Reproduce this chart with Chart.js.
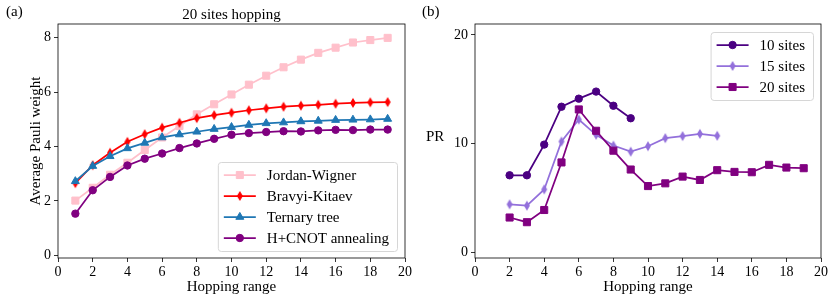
<!DOCTYPE html>
<html lang="en">
<head>
<meta charset="UTF-8">
<title>Pauli weight and PR vs hopping range</title>
<script src="https://cdn.jsdelivr.net/npm/chart.js"></script>
<style>
  * { margin: 0; padding: 0; }
  body {
    width: 831px; height: 298px; background: #fff;
    position: relative; overflow: hidden;
    font-family: 'Liberation Serif', serif; color: #000;
  }
  canvas { position: absolute; top: 0; }
  #chartA { left: 0; }
  #chartB { left: 415px; }
  .lbl { position: absolute; font-size: 15px; line-height: 1; }
</style>
</head>
<body>
<canvas id="chartA" width="415" height="298"></canvas>
<canvas id="chartB" width="416" height="298"></canvas>
<div class="lbl" style="left:6px;top:4px">(a)</div>
<div class="lbl" style="left:422px;top:4px">(b)</div>
<div class="lbl" style="left:426px;top:129px">PR</div>

<script>
// panel (a): average Pauli weight, 20 sites
const hopA = [1, 2, 3, 4, 5, 6, 7, 8, 9, 10, 11, 12, 13, 14, 15, 16, 17, 18, 19];
const jordanWigner = [2.01, 2.48, 2.96, 3.40, 3.87, 4.33, 4.75, 5.18, 5.55, 5.91, 6.27, 6.60, 6.91, 7.19, 7.44, 7.63, 7.82, 7.91, 7.99];
const bravyiKitaev = [2.65, 3.31, 3.77, 4.17, 4.45, 4.69, 4.87, 5.04, 5.15, 5.24, 5.33, 5.40, 5.46, 5.50, 5.53, 5.57, 5.60, 5.62, 5.63];
const ternaryTree  = [2.72, 3.28, 3.64, 3.93, 4.13, 4.33, 4.44, 4.54, 4.64, 4.71, 4.79, 4.85, 4.88, 4.92, 4.94, 4.97, 4.98, 4.99, 5.01];
const hCnotAnneal  = [1.53, 2.39, 2.88, 3.30, 3.55, 3.74, 3.94, 4.11, 4.28, 4.43, 4.49, 4.53, 4.56, 4.55, 4.59, 4.61, 4.60, 4.62, 4.62];

// panel (b): PR
const hop10 = [2, 3, 4, 5, 6, 7, 8, 9];
const pr10  = [7.10, 7.10, 9.92, 13.40, 14.14, 14.79, 13.49, 12.34];
const hop15 = [2, 3, 4, 5, 6, 7, 8, 9, 10, 11, 12, 13, 14];
const pr15  = [4.43, 4.31, 5.80, 10.20, 12.22, 10.82, 9.83, 9.27, 9.77, 10.51, 10.70, 10.91, 10.73];
const hop20 = [2, 3, 4, 5, 6, 7, 8, 9, 10, 11, 12, 13, 14, 15, 16, 17, 18, 19];
const pr20  = [3.22, 2.79, 3.91, 8.28, 13.15, 11.19, 9.36, 7.63, 6.11, 6.36, 6.98, 6.67, 7.57, 7.41, 7.38, 8.06, 7.81, 7.75];

const xTicks  = [0, 2, 4, 6, 8, 10, 12, 14, 16, 18, 20];
const yTicksA = [0, 2, 4, 6, 8];
const yTicksB = [0, 10, 20];

const FONT_FAMILY = "'Liberation Serif', serif";
Chart.defaults.font.family = FONT_FAMILY;
Chart.defaults.font.size = 14;
Chart.defaults.color = '#000';

const zip = (xs, ys) => xs.map((x, i) => ({x: x, y: ys[i]}));

// matplotlib 'd' marker
function thinDiamond(color, w, h) {
  const c = document.createElement('canvas');
  c.width = w + 2; c.height = h + 2;
  const g = c.getContext('2d');
  g.fillStyle = color;
  g.beginPath();
  g.moveTo(c.width / 2, 1);
  g.lineTo(c.width - 1, c.height / 2);
  g.lineTo(c.width / 2, c.height - 1);
  g.lineTo(1, c.height / 2);
  g.closePath();
  g.fill();
  return c;
}

function series(label, xs, ys, color, style, radius, order) {
  return {
    label: label, data: zip(xs, ys),
    borderColor: color, backgroundColor: color,
    pointBorderColor: color, pointBackgroundColor: color,
    borderWidth: 1.75, pointStyle: style, pointRadius: radius,
    pointBorderWidth: 1, order: order
  };
}

// full box round the axes
const framePlugin = {
  id: 'frame',
  afterDatasetsDraw(chart) {
    const {ctx, chartArea: a} = chart;
    ctx.save();
    ctx.strokeStyle = '#000';
    ctx.lineWidth = 0.8;
    ctx.strokeRect(a.left, a.top, a.right - a.left, a.bottom - a.top);
    ctx.restore();
  }
};

// matplotlib-like legend inside the axes
const boxLegend = {
  id: 'boxLegend',
  afterDraw(chart, args, opts) {
    const ctx = chart.ctx, a = chart.chartArea;
    const sets = chart.data.datasets;
    ctx.save();
    ctx.font = '15px ' + FONT_FAMILY;
    const textW = Math.max(...sets.map(d => ctx.measureText(d.label).width));
    const w = 49 + textW + 8;
    const h = 26 + 21 * (sets.length - 1);
    const x = a.right - 8 - w;
    const y = opts.corner === 'upper' ? a.top + 8 : a.bottom - 7 - h;

    ctx.beginPath();
    ctx.roundRect(x + 0.5, y + 0.5, w, h, 3);
    ctx.fillStyle = 'rgba(255,255,255,0.8)';
    ctx.fill();
    ctx.strokeStyle = '#d6d6d6';
    ctx.lineWidth = 1;
    ctx.stroke();

    sets.forEach((d, i) => {
      const cy = y + 13 + 21 * i;
      ctx.beginPath();
      ctx.strokeStyle = d.borderColor;
      ctx.lineWidth = d.borderWidth;
      ctx.moveTo(x + 6, cy);
      ctx.lineTo(x + 38, cy);
      ctx.stroke();
      ctx.fillStyle = d.backgroundColor;
      ctx.lineWidth = d.pointBorderWidth;
      Chart.helpers.drawPoint(ctx, {
        pointStyle: d.pointStyle, radius: d.pointRadius,
        borderWidth: d.pointBorderWidth, rotation: 0
      }, x + 22, cy);
      ctx.fillStyle = '#000';
      ctx.textBaseline = 'middle';
      ctx.textAlign = 'left';
      ctx.fillText(d.label, x + 49, cy + 1);
    });
    ctx.restore();
  }
};

function scales(yTicks, yMin, yMax, yWidth, yTitle) {
  const grid = {drawOnChartArea: false, drawTicks: true, tickLength: 4, color: '#000', lineWidth: 0.8};
  return {
    x: {
      type: 'linear', min: 0, max: 20,
      grid: grid, border: {display: false},
      afterBuildTicks: s => { s.ticks = xTicks.map(v => ({value: v})); },
      afterFit: s => { s.height = 40; },
      ticks: {maxRotation: 0, autoSkip: false, padding: 2},
      title: {display: true, text: 'Hopping range', font: {size: 15}, padding: {top: 0, bottom: 2}}
    },
    y: {
      type: 'linear', min: yMin, max: yMax,
      grid: grid, border: {display: false},
      afterBuildTicks: s => { s.ticks = yTicks.map(v => ({value: v})); },
      afterFit: s => { s.width = yWidth; },
      ticks: {padding: 3},
      title: yTitle ? {display: true, text: yTitle, font: {size: 15}, padding: {top: 27, bottom: 0}} : {display: false}
    }
  };
}

const diamondRed = thinDiamond('#ff0000', 6, 10);
const diamondLav = thinDiamond('#9370db', 6, 10);

new Chart(document.getElementById('chartA'), {
  type: 'line',
  data: {
    datasets: [
      series('Jordan-Wigner', hopA, jordanWigner, '#ffc0cb', 'rect', 5, 4),
      series('Bravyi-Kitaev', hopA, bravyiKitaev, '#ff0000', diamondRed, 5, 3),
      series('Ternary tree', hopA, ternaryTree, '#1f77b4', 'triangle', 4.6, 2),
      series('H+CNOT annealing', hopA, hCnotAnneal, '#800080', 'circle', 3.7, 1)
    ]
  },
  options: {
    responsive: false, animation: false, events: [],
    layout: {padding: {left: 0, right: 10, top: 0, bottom: 0}},
    scales: scales(yTicksA, -0.1, 8.5, 58, 'Average Pauli weight'),
    plugins: {
      legend: {display: false}, tooltip: {enabled: false},
      title: {display: true, text: '20 sites hopping', fullSize: false,
              font: {size: 15, weight: 'normal'}, padding: {top: 6, bottom: 0}},
      boxLegend: {corner: 'lower'}
    }
  },
  plugins: [framePlugin, boxLegend]
});

new Chart(document.getElementById('chartB'), {
  type: 'line',
  data: {
    datasets: [
      series('10 sites', hop10, pr10, '#4b0082', 'circle', 3.7, 3),
      series('15 sites', hop15, pr15, '#9370db', diamondLav, 5, 2),
      series('20 sites', hop20, pr20, '#800080', 'rect', 5, 1)
    ]
  },
  options: {
    responsive: false, animation: false, events: [],
    layout: {padding: {left: 0, right: 10, top: 24, bottom: 0}},
    scales: scales(yTicksB, -0.5, 21, 60, null),
    plugins: {
      legend: {display: false}, tooltip: {enabled: false},
      boxLegend: {corner: 'upper'}
    }
  },
  plugins: [framePlugin, boxLegend]
});
</script>
</body>
</html>
